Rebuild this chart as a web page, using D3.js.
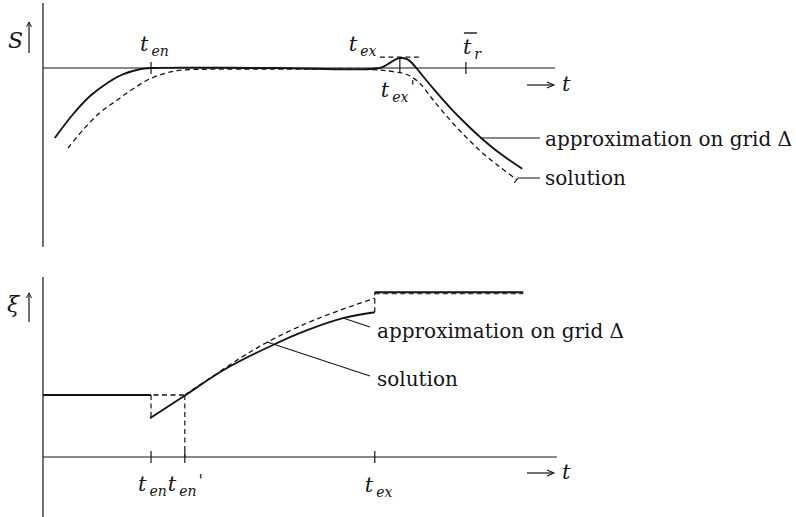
<!DOCTYPE html>
<html>
<head>
<meta charset="utf-8">
<script src="https://cdn.jsdelivr.net/npm/d3@7"></script>
<style>
body{margin:0;background:#fff;}
text{font-family:'DejaVu Serif',serif;fill:#151515;}
</style>
</head>
<body>
<div id="chart"></div>
<script>
// time points on the t axis
const tEnter = 2.11, tEnterDash = 2.77, tExitTop = 6.97, tExitBottom = 6.48, tBarR = 8.26;

// top panel, S over t: [t, S]
const sApprox = [[0.23,-1.75],[0.59,-1.15],[0.92,-0.7],[1.25,-0.38],[1.56,-0.16],[1.89,-0.03],[2.11,0],
    [4.5,0],[6.58,0],[6.74,0.1],[6.88,0.21],[6.97,0.25],[7.11,0.22],[7.21,0.12],[7.29,0],
    [7.62,-0.51],[7.95,-0.99],[8.28,-1.42],[8.54,-1.73],[8.93,-2.14],[9.36,-2.52]];
const sSolution = [[0.49,-2.0],[0.78,-1.55],[1.11,-1.12],[1.45,-0.8],[1.76,-0.52],[2.09,-0.27],[2.42,-0.12],
    [2.73,-0.05],[3.2,-0.03],[4.5,-0.03],[6.58,-0.05],[6.88,-0.1],[7.03,-0.13],[7.17,-0.2],[7.36,-0.38],
    [7.62,-0.8],[7.95,-1.3],[8.28,-1.75],[8.59,-2.13],[8.93,-2.48],[9.26,-2.8]];
const sPeak = 0.27;

// bottom panel, xi over t: [t, xi]
const xiBefore = 1.55, xiAfter = 4.12;
const xiApprox = [[2.09,0.97],[2.81,1.57],[3.52,2.17],[4.49,2.8],[5.16,3.17],[5.86,3.47],[6.48,3.62]];
const xiSolution = [[2.77,1.55],[3.2,1.92],[3.85,2.47],[4.38,2.87],[5.16,3.35],[5.8,3.67],[6.48,3.97]];
const tEnd = 9.38;

const width = 796, height = 517;
let svg = d3.select('#chart').append('svg')
    .attr('width', width)
    .attr('height', height);

let x = d3.scaleLinear().domain([0, 10]).range([43, 555]);
let yTop = d3.scaleLinear().domain([0, 1]).range([68, 28]);
let yBot = d3.scaleLinear().domain([0, 1]).range([457, 417]);

function seg(g, x1, y1, x2, y2, dash, w){
    g.append('line')
        .attr('x1', x1).attr('y1', y1)
        .attr('x2', x2).attr('y2', y2)
        .attr('stroke', '#151515')
        .attr('stroke-width', w || 1.2)
        .attr('stroke-dasharray', dash ? '5,3.5' : null);
}

function curve(g, data, y, dash){
    let line = d3.line()
        .x(d => x(d[0]))
        .y(d => y(d[1]))
        .curve(d3.curveCatmullRom.alpha(0.5));
    g.append('path')
        .attr('d', line(data))
        .attr('fill', 'none')
        .attr('stroke', '#151515')
        .attr('stroke-width', dash ? 1.3 : 1.9)
        .attr('stroke-dasharray', dash ? '5,3.5' : null);
}

function tLabel(g, px, py, sub, prime){
    let t = g.append('text')
        .attr('x', px).attr('y', py)
        .style('font-style', 'italic')
        .style('font-size', '21px')
        .text('t');
    t.append('tspan')
        .attr('dx', 3).attr('dy', 5)
        .style('font-size', '14px')
        .text(sub);
    if(prime){
        t.append('tspan')
            .attr('dx', 2).attr('dy', -10)
            .style('font-size', '16px')
            .text("'");
    }
    return t;
}

function axisArrow(g, px, py){
    // "---> t" under the end of the axis
    seg(g, px, py, px + 26, py, false, 1.2);
    g.append('path')
        .attr('d', `M${px+20},${py-3}L${px+27},${py}L${px+20},${py+3}`)
        .attr('fill', 'none')
        .attr('stroke', '#151515')
        .attr('stroke-width', 1.1);
    g.append('text')
        .attr('x', px + 35).attr('y', py + 6)
        .style('font-style', 'italic')
        .style('font-size', '21px')
        .text('t');
}

function yName(g, name, px, py, yTip, yTail){
    g.append('text')
        .attr('x', px).attr('y', py)
        .style('font-style', 'italic')
        .style('font-size', '22px')
        .text(name);
    seg(g, 29, yTail, 29, yTip, false, 1.2);
    g.append('path')
        .attr('d', `M26.5,${yTip+5}L29,${yTip}L31.5,${yTip+5}`)
        .attr('fill', 'none')
        .attr('stroke', '#151515')
        .attr('stroke-width', 1);
}

function leader(g, pts, label, lx, ly){
    g.append('path')
        .attr('d', d3.line()(pts))
        .attr('fill', 'none')
        .attr('stroke', '#151515')
        .attr('stroke-width', 1.1);
    g.append('text')
        .attr('x', lx).attr('y', ly)
        .style('font-size', '20px')
        .text(label);
}

// ---- top panel ----
let upper = svg.append('g');
seg(upper, 43, 3, 43, 247);
seg(upper, 43, yTop(0), 555, yTop(0));
yName(upper, 'S', 8, 48, 22, 53);
axisArrow(upper, 527, 85);

curve(upper, sApprox, yTop, false);
curve(upper, sSolution, yTop, true);
seg(upper, x(6.58), yTop(sPeak), x(7.35), yTop(sPeak), true, 1.2);

[tEnter, tBarR].forEach(t => seg(upper, x(t), yTop(0) - 6, x(t), yTop(0) + 6));
seg(upper, x(tExitTop), yTop(sPeak), x(tExitTop), yTop(-0.12));

tLabel(upper, x(tEnter) - 11, 51, 'en');
tLabel(upper, x(tExitTop) - 51, 51, 'ex');
tLabel(upper, x(tExitTop) - 19, 97, 'ex', true);
tLabel(upper, x(tBarR) - 3, 54, 'r');
seg(upper, x(tBarR) - 2, 33, x(tBarR) + 11, 33, false, 1.4);

leader(upper, [[x(8.54), 138], [540, 138]], 'approximation on grid \u0394', 545, 146);
leader(upper, [[x(9.2), 183], [x(9.28), 178], [540, 178]], 'solution', 545, 185);

// ---- bottom panel ----
let lower = svg.append('g');
seg(lower, 43, 277, 43, 517);
seg(lower, 43, yBot(0), 557, yBot(0));
yName(lower, '\u03be', 7, 312, 293, 322);
axisArrow(lower, 527, 473);

// levels before entering and after exiting
seg(lower, x(0), yBot(xiBefore), x(tEnter), yBot(xiBefore), false, 1.9);
seg(lower, x(0), yBot(xiBefore), x(tEnterDash), yBot(xiBefore), true, 1.3);
seg(lower, x(tEnter), yBot(xiBefore), x(tEnter), yBot(xiApprox[0][1]), true, 1.2);
seg(lower, x(tEnterDash), yBot(xiBefore), x(tEnterDash), yBot(0), true, 1.2);

curve(lower, xiApprox, yBot, false);
curve(lower, xiSolution, yBot, true);
seg(lower, x(tExitBottom), yBot(xiApprox[xiApprox.length-1][1]), x(tExitBottom), yBot(xiAfter), true, 1.2);
seg(lower, x(tExitBottom), yBot(xiAfter), x(tEnd), yBot(xiAfter), false, 1.9);
seg(lower, x(tExitBottom), yBot(xiAfter) + 1.5, x(tEnd), yBot(xiAfter) + 1.5, true, 1.1);

[tEnter, tEnterDash, tExitBottom].forEach(t => seg(lower, x(t), yBot(0) - 6, x(t), yBot(0) + 6));

tLabel(lower, x(tEnter) - 13, 491, 'en');
tLabel(lower, x(tEnterDash) - 17, 491, 'en', true);
tLabel(lower, x(tExitBottom) - 10, 492, 'ex');

leader(lower, [[343, 318], [370, 327]], 'approximation on grid \u0394', 377, 338);
leader(lower, [[267, 342], [370, 376]], 'solution', 377, 386);
</script>
</body>
</html>
